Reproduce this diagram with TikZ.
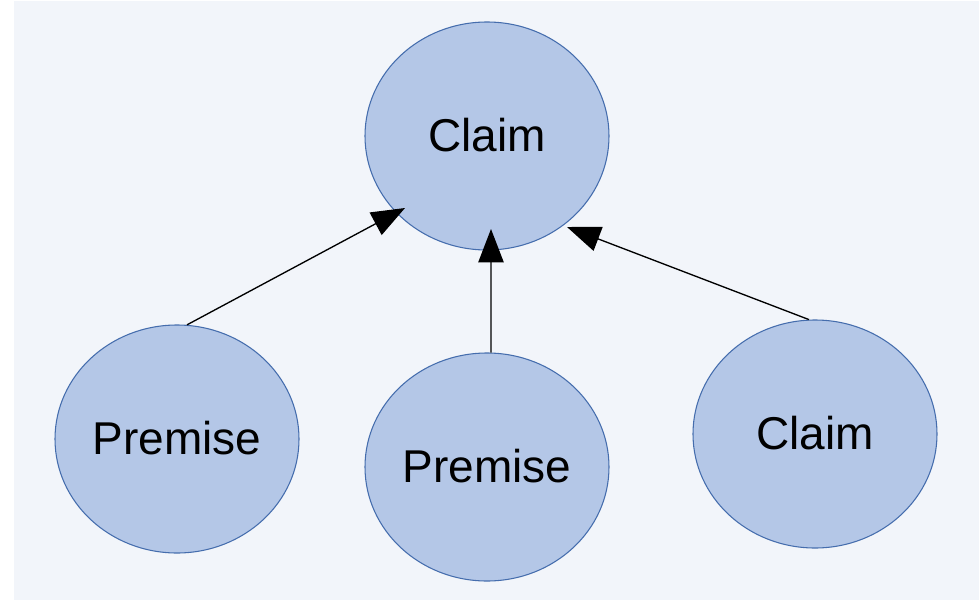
\documentclass[tikz,border=0pt]{standalone}
\usepackage{fontspec}
\setmainfont{Liberation Sans}
\usetikzlibrary{shapes.geometric,arrows.meta}
\definecolor{bgblue}{HTML}{F2F5FA}
\definecolor{nodefill}{HTML}{B4C7E7}
\definecolor{nodeline}{HTML}{456DAD}
\begin{document}
\begin{tikzpicture}[x=0.75pt, y=-0.75pt,
  arg/.style={ellipse, draw=nodeline, fill=nodefill, line width=0.8pt, inner sep=0pt,
    minimum width=183pt, minimum height=171pt, text depth=0.15em,
    font=\fontsize{34.5}{40}\selectfont},
  support/.style={-{Triangle[length=25pt,width=19pt]}, line width=1pt}]
%background
\fill [white] (0,0) rectangle (979,600);
\fill [bgblue] (14,1) rectangle (979,600);
%claim and its supports
\node [arg] (claim) at (487,136) {Claim};
\node [arg] (premA) at (177,439) {Premise};
\node [arg] (premB) at (487,467) {Premise};
\node [arg] (claimB) at (815,434) {Claim};
%arrow tips (just inside the claim)
\coordinate (tipA) at (405,208);
\coordinate (tipB) at (491,229);
\coordinate (tipC) at (567,227);
%arrows
\draw [support] (premA.85) -- (tipA);
\draw [support] (premB.88) -- (tipB);
\draw [support] (claimB.93) -- (tipC);
\end{tikzpicture}
\end{document}
